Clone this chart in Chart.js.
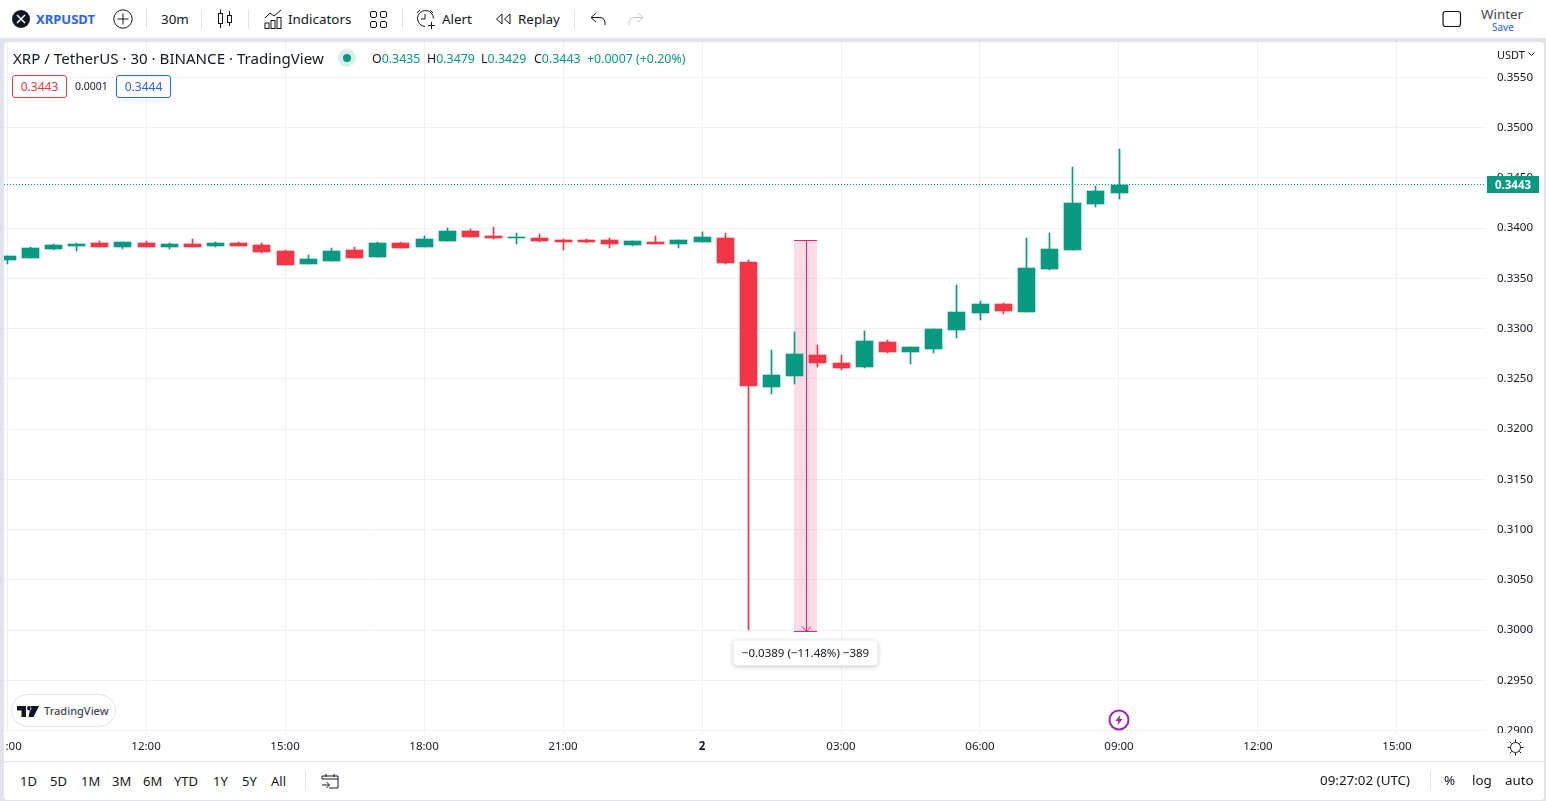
<!DOCTYPE html>
<html>
<head>
<meta charset="utf-8">
<script src="https://cdn.jsdelivr.net/npm/chart.js@4"></script>
<style>
html, body { margin: 0; padding: 0; }
body { width: 1546px; height: 801px; background: #e0e3eb; overflow: hidden; position: relative;
  font-family: "Noto Sans", sans-serif; color: #131722; font-size: 13.4px; }
.abs { position: absolute; white-space: nowrap; line-height: 1; }
#top { position: absolute; left: 0; top: 0; width: 1546px; height: 38px; background: #fff; }
#panel { position: absolute; left: 4px; top: 42px; width: 1540px; height: 758px; background: #fff; border-radius: 4px; }
#sepH { position: absolute; left: 4px; top: 761px; width: 1540px; height: 1px; background: #e0e3eb; }
#wrap { position: absolute; left: 4px; top: 42px; width: 1540px; height: 719px; }
#chart { display: block; }
.sep { position: absolute; width: 1px; background: #e0e3eb; }
.box { position: absolute; border-radius: 3px; border: 1px solid; background: #fff; font-size: 12px; text-align: center; box-sizing: border-box; height: 23px; line-height: 21px; }
svg { position: absolute; overflow: visible; }
</style>
</head>
<body>
<div id="top"></div>
<div id="panel"></div>
<div id="wrap"><canvas id="chart" width="1540" height="719"></canvas></div>
<div id="sepH"></div>
<div style="position:absolute;left:4px;top:738px;width:1.5px;height:16px;background:#fff"></div>

<!-- top toolbar -->
<svg style="left:12px;top:10px" width="18" height="18"><circle cx="9" cy="9" r="9" fill="#131722"/><path d="M5 5L13 13M13 5L5 13" stroke="#fff" stroke-width="1.5"/></svg>
<div class="abs" style="left:36px;top:13px;font-size:13px;font-weight:700;color:#2962ff">XRPUSDT</div>
<svg style="left:113px;top:9px" width="20" height="20" fill="none" stroke="#131722"><circle cx="10" cy="10" r="9.2"/><path d="M10 4.5V15.5M4.5 10H15.5"/></svg>
<div class="sep" style="left:146px;top:9px;height:20px"></div>
<div class="abs" style="left:161px;top:13px">30m</div>
<div class="sep" style="left:201px;top:9px;height:20px"></div>
<svg style="left:217px;top:9px" width="16" height="20" fill="none" stroke="#131722"><rect x="1.5" y="4.5" width="4" height="10"/><path d="M3.5 0.5V4.5M3.5 14.5V19"/><rect x="10.5" y="6.5" width="4" height="7"/><path d="M12.5 2V6.5M12.5 13.5V17"/></svg>
<div class="sep" style="left:248px;top:9px;height:20px"></div>
<svg style="left:264px;top:9px" width="18" height="20" fill="none" stroke="#131722"><path d="M1 9L6 4L10 7L17 1"/><rect x="1" y="14" width="4" height="5.5"/><rect x="7" y="11.5" width="4" height="8"/><rect x="13" y="8.5" width="4" height="11"/></svg>
<div class="abs" style="left:288px;top:13px">Indicators</div>
<svg style="left:370px;top:11px" width="17" height="17" fill="none" stroke="#131722"><rect x="0.5" y="0.5" width="6" height="6" rx="1.5"/><rect x="10.5" y="0.5" width="6" height="6" rx="1.5"/><rect x="0.5" y="10.5" width="6" height="6" rx="1.5"/><rect x="10.5" y="10.5" width="6" height="6" rx="1.5"/></svg>
<div class="sep" style="left:402px;top:9px;height:20px"></div>
<svg style="left:416px;top:9px" width="20" height="21" fill="none" stroke="#131722"><path d="M9 17.5A8 8 0 1 1 17.5 9.5"/><path d="M9 5V10H5M1 4L4 1M14 1L17 4M15.5 13V20M12 16.5H19"/></svg>
<div class="abs" style="left:442px;top:13px">Alert</div>
<svg style="left:495px;top:13px" width="16" height="12" fill="none" stroke="#131722"><path d="M7 1L1.5 6L7 11V1ZM15 1L9.5 6L15 11V1Z"/></svg>
<div class="abs" style="left:518px;top:13px">Replay</div>
<div class="sep" style="left:574px;top:9px;height:20px"></div>
<svg style="left:590px;top:12px" width="16" height="14" fill="none" stroke="#131722"><path d="M6 1L1 5.5L6 10M1 5.5H10A5 5 0 0 1 15 11V13"/></svg>
<svg style="left:628px;top:12px" width="16" height="14" fill="none" stroke="#c5c8d0"><path d="M10 1L15 5.5L10 10M15 5.5H6A5 5 0 0 0 1 11V13"/></svg>
<svg style="left:1442px;top:10px" width="20" height="18" fill="none" stroke="#131722" stroke-width="1.2"><rect x="1" y="1.5" width="17.5" height="15" rx="2.5"/></svg>
<div class="abs" style="left:1481px;top:8px;color:#434651">Winter</div>
<div class="abs" style="left:1492px;top:22px;font-size:10px;color:#2962ff">Save</div>

<!-- legend -->
<div class="abs" id="title" style="left:13px;top:51px;font-size:15.1px"></div>
<svg style="left:338px;top:49px" width="18" height="18"><circle cx="9" cy="9" r="9" fill="#d9efeb"/><circle cx="9" cy="9" r="4" fill="#089981"/></svg>
<div id="ohlc"></div>
<div class="box" style="left:12px;top:75px;width:55px;border-color:#f23645;color:#f23645">0.3443</div>
<div class="abs" style="left:75px;top:81px;font-size:10.5px">0.0001</div>
<div class="box" style="left:116px;top:75px;width:55px;border-color:#2962ff;color:#2962ff">0.3444</div>
<div class="abs" style="left:1497px;top:49px;font-size:11px">USDT</div>
<svg style="left:1528px;top:52px" width="7" height="5" fill="none" stroke="#131722"><path d="M0.5 0.5L3.5 3.5L6.5 0.5"/></svg>

<!-- tradingview badge -->
<div style="position:absolute;left:11px;top:694px;width:105px;height:33px;box-sizing:border-box;border:1px solid #e0e3eb;border-radius:17px;background:#fff"></div>
<svg style="left:17px;top:706px" width="22" height="11" fill="#131722"><path d="M0 0H9V11H4.5V4.5H0ZM14 0H22L16.5 11H11.5ZM10 2.2a2.2 2.2 0 1 0 4.4 0a2.2 2.2 0 1 0 -4.4 0"/></svg>
<div class="abs" style="left:44px;top:705px;font-size:11px;font-weight:500;color:#434651">TradingView</div>

<!-- bolt marker -->
<svg style="left:1108px;top:709px" width="22" height="22"><circle cx="11" cy="11" r="9.5" fill="#fff" stroke="#9c27b0" stroke-width="2"/><path d="M12.5 5.5L7.5 12H10.5L9.5 16.5L14.5 10H11.5Z" fill="#9c27b0"/></svg>

<!-- gear cell, also hides the bottom half of the lowest price label -->
<div style="position:absolute;left:1487px;top:733px;width:57px;height:28px;background:#fff"></div>
<svg style="left:1507px;top:739px" width="17" height="17" fill="none" stroke="#131722"><circle cx="8.5" cy="8.5" r="5"/><path d="M8.5 0.5V3M8.5 14V16.5M0.5 8.5H3M14 8.5H16.5M2.8 2.8L4.6 4.6M12.4 12.4L14.2 14.2M2.8 14.2L4.6 12.4M12.4 4.6L14.2 2.8"/></svg>

<!-- bottom toolbar -->
<div id="ranges"></div>
<div class="sep" style="left:305px;top:771px;height:20px"></div>
<svg style="left:321px;top:773px" width="18" height="17" fill="none" stroke="#131722"><path d="M1 6V3H17V15H8M1 6H17M5 1V4M13 1V4M1 12H8M5.5 9L8.5 12L5.5 15"/></svg>
<div class="abs" style="left:1320px;top:774px">09:27:02 (UTC)</div>
<div class="sep" style="left:1430px;top:771px;height:20px"></div>
<div class="abs" style="left:1444px;top:774px">%</div>
<div class="abs" style="left:1472px;top:774px">log</div>
<div class="abs" style="left:1505px;top:774px">auto</div>

<script>
const hours = [9, 9.5, 10, 10.5, 11, 11.5, 12, 12.5, 13, 13.5, 14, 14.5, 15, 15.5, 16, 16.5, 17, 17.5, 18, 18.5, 19, 19.5, 20, 20.5,
    21, 21.5, 22, 22.5, 23, 23.5, 24, 24.5, 25, 25.5, 26, 26.5, 27, 27.5, 28, 28.5, 29, 29.5, 30, 30.5, 31, 31.5, 32, 32.5, 33];
const opens = [0.3368, 0.3370, 0.3379, 0.3382, 0.3385, 0.3381, 0.3385, 0.3381, 0.3384, 0.3382, 0.3385, 0.3383, 0.3377, 0.3364, 0.3367, 0.3378, 0.3371,
    0.3385, 0.3381, 0.3387, 0.3397, 0.3392, 0.3390, 0.3390, 0.3388, 0.3388, 0.3388, 0.3383, 0.3386, 0.3384, 0.3386, 0.3390,
    0.3366, 0.3242, 0.3253, 0.3274, 0.3266, 0.3262, 0.3287, 0.3277, 0.3280, 0.3299, 0.3316, 0.3324, 0.3317, 0.3359, 0.3378, 0.3424, 0.3435];
const highs = [0.3372, 0.3381, 0.3384, 0.3385, 0.3387, 0.3386, 0.3387, 0.3385, 0.3389, 0.3386, 0.3386, 0.3385, 0.3378, 0.3373, 0.3380, 0.3381, 0.3386,
    0.3386, 0.3392, 0.3400, 0.3399, 0.3401, 0.3395, 0.3394, 0.3389, 0.3389, 0.3390, 0.3387, 0.3392, 0.3388, 0.3396, 0.3395,
    0.3368, 0.3279, 0.3297, 0.3284, 0.3274, 0.3298, 0.3289, 0.3282, 0.3300, 0.3343, 0.3327, 0.3325, 0.3390, 0.3395, 0.3461, 0.3442, 0.3479];
const lows = [0.3364, 0.3370, 0.3378, 0.3377, 0.3381, 0.3379, 0.3381, 0.3379, 0.3381, 0.3381, 0.3382, 0.3375, 0.3363, 0.3364, 0.3367, 0.3370, 0.3371,
    0.3380, 0.3381, 0.3387, 0.3391, 0.3389, 0.3384, 0.3386, 0.3378, 0.3385, 0.3380, 0.3382, 0.3384, 0.3380, 0.3386, 0.3364,
    0.3000, 0.3235, 0.3245, 0.3262, 0.3259, 0.3261, 0.3276, 0.3265, 0.3276, 0.3291, 0.3309, 0.3315, 0.3317, 0.3358, 0.3378, 0.3421, 0.3429];
const closes = [0.3372, 0.3380, 0.3383, 0.3384, 0.3381, 0.3386, 0.3381, 0.3384, 0.3381, 0.3385, 0.3382, 0.3376, 0.3363, 0.3369, 0.3377, 0.3370, 0.3385,
    0.3380, 0.3389, 0.3397, 0.3391, 0.3390, 0.3391, 0.3387, 0.3386, 0.3386, 0.3384, 0.3387, 0.3384, 0.3388, 0.3391, 0.3365,
    0.3243, 0.3254, 0.3275, 0.3266, 0.3261, 0.3288, 0.3277, 0.3282, 0.3300, 0.3317, 0.3324, 0.3318, 0.3360, 0.3379, 0.3425, 0.3437, 0.3443];

const timeLabels = { 9: '09:00', 12: '12:00', 15: '15:00', 18: '18:00', 21: '21:00', 24: '2', 27: '03:00', 30: '06:00', 33: '09:00', 36: '12:00', 39: '15:00' };
const rangeButtons = [['1D', 20], ['5D', 50], ['1M', 81], ['3M', 112], ['6M', 143], ['YTD', 174], ['1Y', 213], ['5Y', 242], ['All', 271]];
const ohlcParts = [['O', '0.3435', 372], ['H', '0.3479', 427], ['L', '0.3429', 481], ['C', '0.3443', 534], ['', '+0.0007 (+0.20%)', 587]];
const lastPrice = 0.3443;
const measureTimes = [26, 26.5];
const measurePrices = [0.3388, 0.2999];
const measureText = '\u22120.0389 (\u221211.48%) \u2212389';

const UP = '#089981';
const DOWN = '#f23645';
const FONT = '"Noto Sans", sans-serif';

document.getElementById('title').textContent = 'XRP / TetherUS \u00b7 30 \u00b7 BINANCE \u00b7 TradingView';
document.getElementById('ohlc').innerHTML = ohlcParts
    .map(p => '<div class="abs" style="left:' + p[2] + 'px;top:53px;font-size:12.4px;color:#089981"><span style="color:#131722">' + p[0] + '</span>' + p[1] + '</div>').join('');
document.getElementById('ranges').innerHTML = rangeButtons
    .map(r => '<div class="abs" style="left:' + r[1] + 'px;top:775px;font-size:13px">' + r[0] + '</div>').join('');

const candleColors = closes.map((c, i) => c >= opens[i] ? UP : DOWN);
const snapX = px => Math.floor(px + 0.05);

// snap the bars to whole pixels so wicks stay 1px sharp, and put the shaded band under them
const measureBand = {
    id: 'measureBand',
    beforeDatasetsDraw(chart) {
        const { ctx, scales: { x, y } } = chart;
        chart.data.datasets.forEach((ds, d) => {
            chart.getDatasetMeta(d).data.forEach(bar => {
                bar.x = snapX(bar.x) + 0.5;
                bar.y = Math.round(bar.y);
                bar.base = Math.round(bar.base);
            });
        });
        const left = snapX(x.getPixelForValue(measureTimes[0]));
        const right = snapX(x.getPixelForValue(measureTimes[1]));
        const top = Math.round(y.getPixelForValue(measurePrices[0]));
        const bottom = Math.round(y.getPixelForValue(measurePrices[1]));
        ctx.save();
        ctx.fillStyle = 'rgba(242, 36, 111, 0.16)';
        ctx.fillRect(left, top, right - left, bottom - top);
        ctx.restore();
    }
};

const overlays = {
    id: 'overlays',
    afterDatasetsDraw(chart) {
        const { ctx, chartArea, scales: { x, y } } = chart;
        const left = snapX(x.getPixelForValue(measureTimes[0]));
        const right = snapX(x.getPixelForValue(measureTimes[1]));
        const top = Math.round(y.getPixelForValue(measurePrices[0])) + 0.5;
        const bottom = Math.round(y.getPixelForValue(measurePrices[1])) + 0.5;
        const mid = Math.round((left + right) / 2) + 0.5;
        ctx.save();
        ctx.strokeStyle = '#f0246f';
        ctx.lineWidth = 1;
        ctx.beginPath();
        ctx.moveTo(left, top); ctx.lineTo(right, top);
        ctx.moveTo(left, bottom); ctx.lineTo(right, bottom);
        ctx.moveTo(mid, top); ctx.lineTo(mid, bottom);
        ctx.moveTo(mid - 4.5, bottom - 5); ctx.lineTo(mid, bottom); ctx.lineTo(mid + 4.5, bottom - 5);
        ctx.stroke();

        ctx.shadowColor = 'rgba(0, 0, 0, 0.25)';
        ctx.shadowBlur = 5;
        ctx.shadowOffsetY = 1;
        ctx.fillStyle = '#fff';
        ctx.beginPath();
        ctx.roundRect(mid - 73, bottom + 9, 144, 25, 4);
        ctx.fill();
        ctx.shadowColor = 'transparent';
        ctx.fillStyle = '#131722';
        ctx.font = '11.5px ' + FONT;
        ctx.textAlign = 'center';
        ctx.textBaseline = 'middle';
        ctx.fillText(measureText, mid - 1, bottom + 22);

        // last price line and tag
        const py = Math.round(y.getPixelForValue(lastPrice)) - 0.5;
        ctx.strokeStyle = UP;
        ctx.setLineDash([1, 2]);
        ctx.beginPath();
        ctx.moveTo(chartArea.left, py); ctx.lineTo(chartArea.right, py);
        ctx.stroke();
        ctx.setLineDash([]);
        ctx.fillStyle = UP;
        ctx.fillRect(chartArea.right + 1, py - 8.5, 52, 17);
        ctx.fillStyle = '#fff';
        ctx.font = '700 11.5px ' + FONT;
        ctx.fillText(lastPrice.toFixed(4), chartArea.right + 27, py + 1.5);
        ctx.restore();
    }
};

new Chart(document.getElementById('chart'), {
    type: 'bar',
    data: {
        datasets: [{
            label: 'wick',
            data: hours.map((h, i) => ({ x: h, y: [lows[i], highs[i]] })),
            backgroundColor: candleColors,
            barThickness: 1,
            grouped: false,
            order: 2
        }, {
            label: 'body',
            data: hours.map((h, i) => ({ x: h, y: [opens[i], closes[i]] })),
            backgroundColor: candleColors,
            barThickness: 17,
            grouped: false,
            order: 1
        }]
    },
    options: {
        responsive: false,
        animation: false,
        devicePixelRatio: 1,
        layout: { padding: 0 },
        plugins: { legend: { display: false }, tooltip: { enabled: false } },
        scales: {
            x: {
                type: 'linear',
                offset: false,
                min: 8.935,
                max: 40.921,
                afterFit: scale => { scale.height = 28; scale.paddingLeft = 0; scale.paddingRight = 0; },
                border: { display: false },
                grid: { color: '#f0f1f4', drawTicks: false, offset: false },
                ticks: {
                    stepSize: 3,
                    includeBounds: false,
                    autoSkip: false,
                    maxRotation: 0,
                    padding: 7,
                    color: '#131722',
                    font: c => ({ family: FONT, size: 11.5, weight: c.tick && c.tick.value === 24 ? '700' : '400' }),
                    callback: value => timeLabels[value]
                }
            },
            y: {
                position: 'right',
                min: 0.289771,
                max: 0.358512,
                afterFit: scale => { scale.width = 58; scale.paddingTop = 0; scale.paddingBottom = 0; },
                border: { display: false },
                grid: { color: '#f0f1f4', drawTicks: false },
                ticks: {
                    stepSize: 0.005,
                    includeBounds: false,
                    autoSkip: false,
                    padding: 11,
                    color: '#131722',
                    font: { family: FONT, size: 11.5 },
                    callback: value => value.toFixed(4)
                }
            }
        }
    },
    plugins: [measureBand, overlays]
});
</script>
</body>
</html>
